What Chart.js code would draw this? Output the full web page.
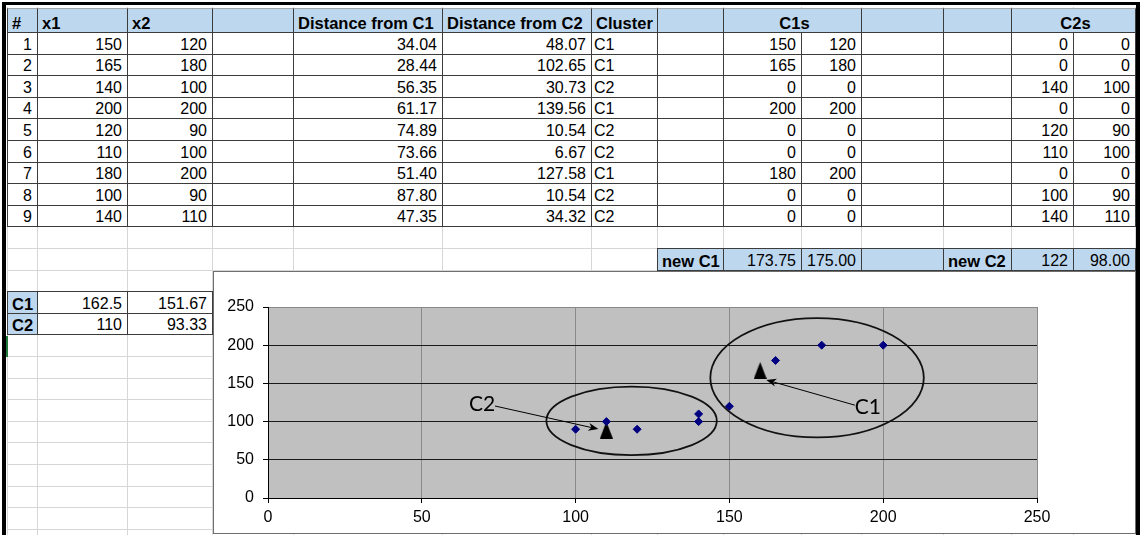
<!DOCTYPE html>
<html>
<head>
<meta charset="utf-8">
<title>k-means</title>
<script src="https://cdn.jsdelivr.net/npm/chart.js@4.4.1/dist/chart.umd.min.js"></script>
<style>
  html, body { margin: 0; padding: 0; background: #fff; }
  #sheet { position: relative; width: 1141px; height: 535px; overflow: hidden;
           font-family: "Liberation Sans", Arial, sans-serif; font-size: 16px; color: #000; }
  .gl { position: absolute; background: #d6d6d6; }
  .frame { position: absolute; background: #000; }
  .cell { position: absolute; box-sizing: border-box; border: 1px solid #3c3c3c; background: #fff; line-height: 16px; }
  .cell.blue { background: #bdd7ee; }
  .cell.head { border-top-color: #a6a6a6; }
  .cell span { position: absolute; bottom: 1.5px; left: 2px; right: 5px; white-space: nowrap; }
  .cell.num span { text-align: right; }
  .cell.mid span { text-align: center; left: 0; right: 0; }
  .cell.bold span { font-weight: bold; font-size: 16.5px; left: 4px; }
  #chartBox { position: absolute; left: 213px; top: 271px; width: 923px; height: 263px;
              box-sizing: border-box; border: 1px solid #6e6e6e; background: #fff; }
  #chartBox canvas { position: absolute; left: 0; top: 0; }
</style>
</head>
<body>
<div id="sheet">
  <div id="chartBox"><canvas id="kmeans" width="921" height="261"></canvas></div>
</div>
<script>
// Dane arkusza
const pointIds = [1, 2, 3, 4, 5, 6, 7, 8, 9];
const x1 = [150, 165, 140, 200, 120, 110, 180, 100, 140];
const x2 = [120, 180, 100, 200, 90, 100, 200, 90, 110];
const distC1 = ['34.04', '28.44', '56.35', '61.17', '74.89', '73.66', '51.40', '87.80', '47.35'];
const distC2 = ['48.07', '102.65', '30.73', '139.56', '10.54', '6.67', '127.58', '10.54', '34.32'];
const cluster = ['C1', 'C1', 'C2', 'C1', 'C2', 'C2', 'C1', 'C2', 'C2'];
const newC1 = ['173.75', '175.00'];
const newC2 = ['122', '98.00'];
const centroidNames = ['C1', 'C2'];
const centroidCells = [['162.5', '151.67'], ['110', '93.33']];

// Centroidy na wykresie (trojkaty)
const centroidX = [160, 110];
const centroidY = [167, 89];

// Podzialki osi
const xTicks = [0, 50, 100, 150, 200, 250];
const yTicks = [0, 50, 100, 150, 200, 250];

// ---- arkusz ----
const sheet = document.getElementById('sheet');
const chartBox = document.getElementById('chartBox');
const colX = [7, 37, 127, 212, 293, 442, 591, 657, 723, 801, 861, 943, 1011, 1073, 1135];
const rowY = [8];
for (let k = 0; k < 25; k++) rowY.push(32 + Math.round(21.6 * k));

function addDiv(cls, l, t, w, h) {
  const d = document.createElement('div');
  d.className = cls;
  d.style.left = l + 'px'; d.style.top = t + 'px';
  d.style.width = w + 'px'; d.style.height = h + 'px';
  sheet.insertBefore(d, chartBox);
  return d;
}

// jasna siatka arkusza
rowY.forEach(y => addDiv('gl', colX[0], y, colX[colX.length - 1] - colX[0], 1));
colX.forEach(x => addDiv('gl', x, 7, 1, 535));

function cell(c0, c1, r, text, cls) {
  const d = addDiv('cell ' + (cls || ''), colX[c0], rowY[r], colX[c1] - colX[c0] + 1, rowY[r + 1] - rowY[r] + 1);
  if (text !== '' && text !== undefined) {
    const s = document.createElement('span');
    s.textContent = text;
    d.appendChild(s);
  }
}

// naglowek
const header = [[0, 1, '#'], [1, 2, 'x1'], [2, 3, 'x2'], [3, 4, ''], [4, 5, 'Distance from C1'],
  [5, 6, 'Distance from C2'], [6, 7, 'Cluster'], [7, 8, ''], [8, 10, 'C1s'], [10, 11, ''], [11, 12, ''], [12, 14, 'C2s']];
header.forEach(([a, b, t]) => cell(a, b, 0, t, 'blue head bold' + (t === 'C1s' || t === 'C2s' ? ' mid' : '')));

// wiersze punktow
pointIds.forEach((id, i) => {
  const r = i + 1;
  const inC1 = cluster[i] === 'C1';
  const row = [String(id), String(x1[i]), String(x2[i]), '', distC1[i], distC2[i], cluster[i], '',
    String(inC1 ? x1[i] : 0), String(inC1 ? x2[i] : 0), '', '',
    String(inC1 ? 0 : x1[i]), String(inC1 ? 0 : x2[i])];
  row.forEach((t, c) => cell(c, c + 1, r, t, c === 6 || t === '' ? '' : 'num'));
});

// nowe centroidy
cell(7, 8, 11, 'new C1', 'blue bold');
cell(8, 9, 11, newC1[0], 'blue num');
cell(9, 10, 11, newC1[1], 'blue num');
cell(10, 11, 11, '', 'blue');
cell(11, 12, 11, 'new C2', 'blue bold');
cell(12, 13, 11, newC2[0], 'blue num');
cell(13, 14, 11, newC2[1], 'blue num');

// biezace centroidy
centroidNames.forEach((n, i) => {
  cell(0, 1, 13 + i, n, 'blue bold');
  cell(1, 2, 13 + i, centroidCells[i][0], 'num');
  cell(2, 3, 13 + i, centroidCells[i][1], 'num');
});

// ramka okna i znacznik zaznaczenia
addDiv('frame', 2, 2, 4, 533);
addDiv('frame', 2, 2, 1138, 3);
addDiv('frame', 1136, 2, 4, 533);
addDiv('frame', 6, 336, 2, 21).style.background = '#1f7a3a';

// ---- wykres ----
const tri = document.createElement('canvas');
tri.width = 13; tri.height = 17;
const tctx = tri.getContext('2d');
tctx.fillStyle = '#000';
tctx.beginPath();
tctx.moveTo(6.5, 0); tctx.lineTo(13, 17); tctx.lineTo(0, 17);
tctx.closePath(); tctx.fill();

// elipsy i objasnienia w jednostkach danych
const ellipses = [
  { cx: 118.2, cy: 101, rx: 27.7, ry: 44.9 },
  { cx: 178.5, cy: 157.4, rx: 34.7, ry: 78.1 }
];
const callouts = [
  { text: 'C2', tx: 69.6, ty: 122.8, fx: 73.8, fy: 120.4, ax: 107.4, ay: 90.2 },
  { text: 'C1', tx: 195, ty: 119.1, fx: 190.8, fy: 121.5, ax: 162, ay: 154.5 }
];

const plotBackground = {
  id: 'plotBackground',
  beforeDraw(chart) {
    const { ctx, chartArea: a } = chart;
    ctx.save();
    ctx.fillStyle = '#c0c0c0';
    ctx.fillRect(a.left, a.top, a.right - a.left, a.bottom - a.top);
    ctx.restore();
  }
};

const shapes = {
  id: 'shapes',
  afterDatasetsDraw(chart) {
    const { ctx, scales: { x, y } } = chart;
    ctx.save();
    ctx.strokeStyle = '#111';
    ctx.lineWidth = 1.8;
    ellipses.forEach(e => {
      const px = x.getPixelForValue(e.cx), py = y.getPixelForValue(e.cy);
      const rx = Math.abs(x.getPixelForValue(e.cx + e.rx) - px);
      const ry = Math.abs(y.getPixelForValue(e.cy + e.ry) - py);
      ctx.beginPath();
      ctx.ellipse(px, py, rx, ry, 0, 0, Math.PI * 2);
      ctx.stroke();
    });
    callouts.forEach(c => {
      const x0 = x.getPixelForValue(c.fx), y0 = y.getPixelForValue(c.fy);
      const x1p = x.getPixelForValue(c.ax), y1p = y.getPixelForValue(c.ay);
      const ang = Math.atan2(y1p - y0, x1p - x0);
      ctx.strokeStyle = '#000';
      ctx.lineWidth = 1;
      ctx.beginPath();
      ctx.moveTo(x0, y0);
      ctx.lineTo(x1p - Math.cos(ang) * 6, y1p - Math.sin(ang) * 6);
      ctx.stroke();
      ctx.fillStyle = '#000';
      ctx.beginPath();
      ctx.moveTo(x1p, y1p);
      ctx.lineTo(x1p - Math.cos(ang) * 10 + Math.sin(ang) * 4, y1p - Math.sin(ang) * 10 - Math.cos(ang) * 4);
      ctx.lineTo(x1p - Math.cos(ang) * 7, y1p - Math.sin(ang) * 7);
      ctx.lineTo(x1p - Math.cos(ang) * 10 - Math.sin(ang) * 4, y1p - Math.sin(ang) * 10 + Math.cos(ang) * 4);
      ctx.closePath();
      ctx.fill();
      ctx.font = '21px Lato, "Open Sans", sans-serif';
      ctx.textAlign = 'center';
      ctx.textBaseline = 'middle';
      ctx.fillText(c.text, x.getPixelForValue(c.tx), y.getPixelForValue(c.ty));
    });
    ctx.restore();
  }
};

const tickFont = { family: '"Liberation Sans", Arial, sans-serif', size: 16 };

new Chart(document.getElementById('kmeans').getContext('2d'), {
  type: 'scatter',
  data: {
    datasets: [
      {
        label: 'points',
        data: x1.map((v, i) => ({ x: v, y: x2[i] })),
        pointStyle: 'rectRot',
        pointRadius: 4,
        backgroundColor: '#000080',
        borderColor: '#000080',
        borderWidth: 1
      },
      {
        label: 'centroids',
        data: centroidX.map((v, i) => ({ x: v, y: centroidY[i] })),
        pointStyle: tri,
        pointRadius: 8
      }
    ]
  },
  options: {
    responsive: false,
    animation: false,
    devicePixelRatio: 1,
    layout: { padding: { top: 35, right: 98, left: 0, bottom: 0 } },
    plugins: { legend: { display: false }, tooltip: { enabled: false } },
    scales: {
      x: {
        type: 'linear', min: 0, max: 250,
        afterBuildTicks: s => { s.ticks = xTicks.map(v => ({ value: v })); },
        afterFit: s => { s.height = 35; },
        grid: { color: '#8a8a8a', tickColor: '#000', tickLength: 5 },
        border: { color: '#000' },
        ticks: { color: '#000', font: tickFont, padding: 5, maxRotation: 0 }
      },
      y: {
        type: 'linear', min: 0, max: 250,
        afterBuildTicks: s => { s.ticks = yTicks.map(v => ({ value: v })); },
        afterFit: s => { s.width = 54; },
        grid: { color: c => (c.tick && c.tick.value === 250 ? '#8a8a8a' : '#1a1a1a'), tickColor: '#000', tickLength: 5 },
        border: { color: '#000' },
        ticks: { color: '#000', font: tickFont, padding: 9 }
      }
    }
  },
  plugins: [plotBackground, shapes]
});
</script>
</body>
</html>
